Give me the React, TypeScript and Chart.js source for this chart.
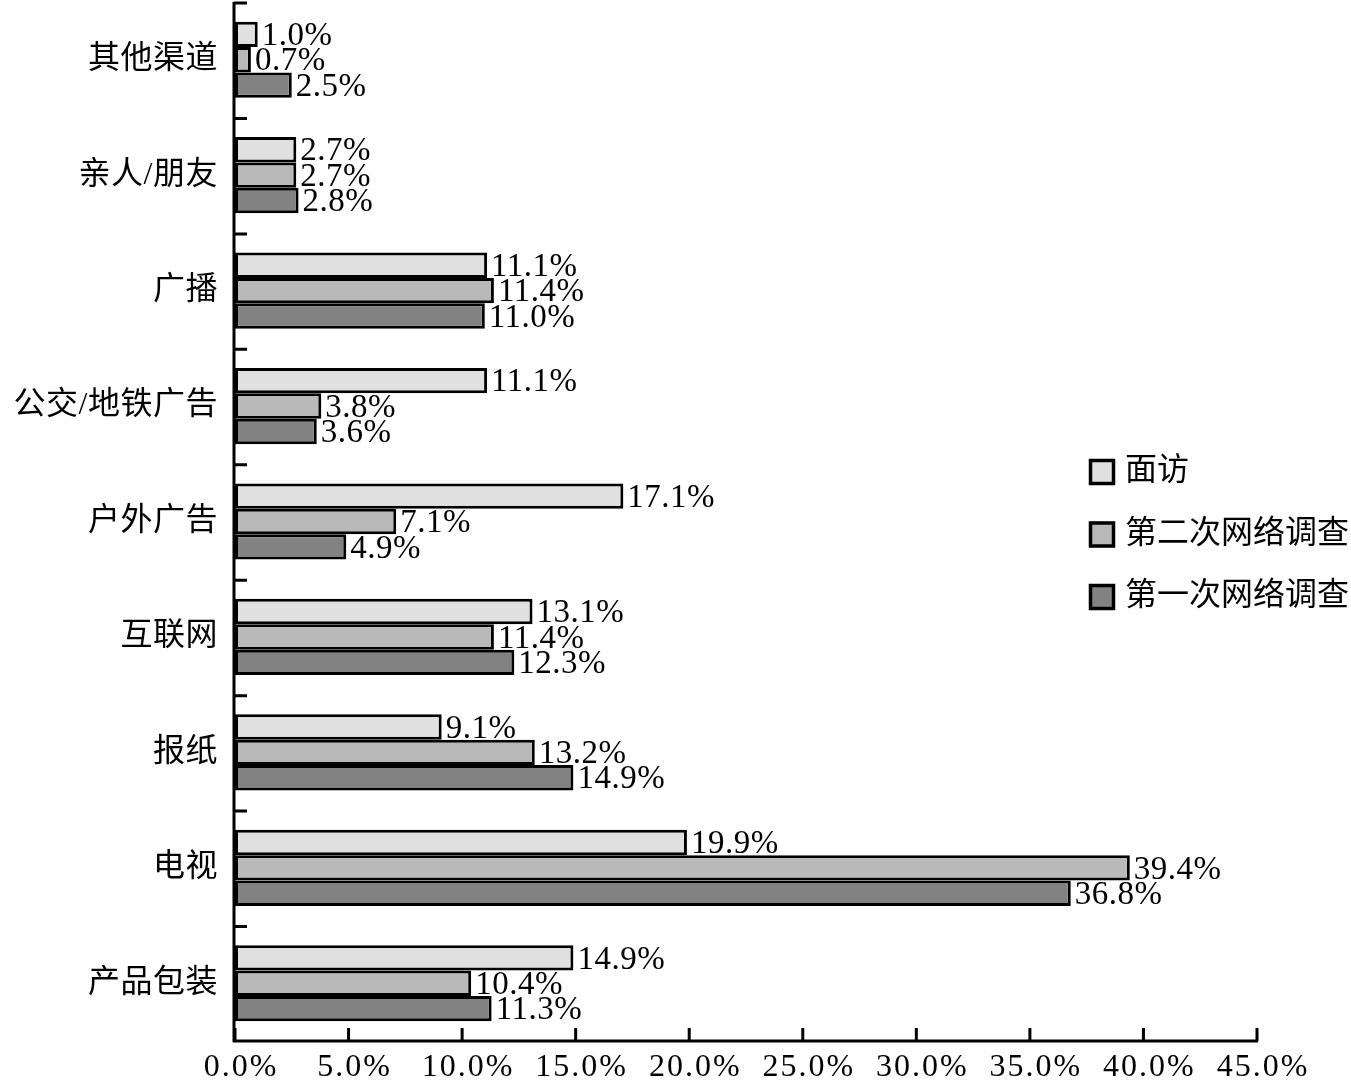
import React, { useEffect, useRef } from 'react';
import { Chart, registerables } from 'chart.js';

Chart.register(...registerables);

const categories = ['其他渠道', '亲人/朋友', '广播', '公交/地铁广告', '户外广告', '互联网', '报纸', '电视', '产品包装'];
const seriesNames = ['面访', '第二次网络调查', '第一次网络调查'];
const faceToFace = [1.0, 2.7, 11.1, 11.1, 17.1, 13.1, 9.1, 19.9, 14.9];
const secondOnline = [0.7, 2.7, 11.4, 3.8, 7.1, 11.4, 13.2, 39.4, 10.4];
const firstOnline = [2.5, 2.8, 11.0, 3.6, 4.9, 12.3, 14.9, 36.8, 11.3];
const seriesColors = ['#e0e0e0', '#b9b9b9', '#828282'];
const xMin = 0;
const xMax = 45;
const xStep = 5;

const FAMILY = '"Liberation Serif", "Times New Roman", "Noto Sans CJK SC", serif';

const stylePlugin = {
  id: 'stylePlugin',
  beforeDraw(chart: any) {
    const ctx = chart.ctx;
    ctx.save();
    ctx.fillStyle = '#ffffff';
    ctx.fillRect(0, 0, chart.width, chart.height);
    ctx.restore();
    (ctx as any).letterSpacing = '0.5px';
  },
  afterDatasetsDraw(chart: any) {
    const ctx = chart.ctx;
    const area = chart.chartArea;
    const xs = chart.scales.x;
    const ys = chart.scales.y;
    // data labels
    ctx.save();
    (ctx as any).letterSpacing = '0.5px';
    ctx.font = `33px ${FAMILY}`;
    ctx.fillStyle = '#000';
    ctx.textAlign = 'left';
    ctx.textBaseline = 'middle';
    chart.data.datasets.forEach((ds: any, di: number) => {
      const meta = chart.getDatasetMeta(di);
      meta.data.forEach((el: any, i: number) => {
        const v = ds.data[i];
        ctx.fillText(v.toFixed(1) + '%', el.x + 4, el.y + 2);
      });
    });
    ctx.restore();

    // axes
    ctx.save();
    ctx.strokeStyle = '#000';
    ctx.lineWidth = 3;
    ctx.beginPath();
    ctx.moveTo(area.left - 1, area.top);
    ctx.lineTo(area.left - 1, area.bottom + 1);
    ctx.moveTo(area.left - 2, area.bottom);
    ctx.lineTo(area.right + 1, area.bottom);
    ctx.stroke();
    ctx.beginPath();
    for (let v = xMin; v <= xMax; v += xStep) {
      const px = xs.getPixelForValue(v);
      ctx.moveTo(px, area.bottom);
      ctx.lineTo(px, area.bottom - 13);
    }
    for (let i = 0; i < categories.length; i++) {
      const py = ys.getPixelForValue(i - 0.5);
      ctx.moveTo(area.left - 1, py + 1);
      ctx.lineTo(area.left + 12, py + 1);
    }
    ctx.stroke();

    // x tick labels
    (ctx as any).letterSpacing = '2px';
    ctx.font = `32px ${FAMILY}`;
    ctx.fillStyle = '#000';
    ctx.textAlign = 'center';
    ctx.textBaseline = 'middle';
    for (let v = xMin; v <= xMax; v += xStep) {
      const px = xs.getPixelForValue(v);
      ctx.fillText(v.toFixed(1) + '%', px + 6, area.bottom + 27);
    }
    ctx.restore();
  },
  afterDraw(chart: any) {
    const ctx = chart.ctx;
    ctx.save();
    (ctx as any).letterSpacing = '0px';
    ctx.font = `32px ${FAMILY}`;
    ctx.textAlign = 'left';
    ctx.textBaseline = 'middle';
    const left = chart.width - 262;
    const top = 472;
    const gap = 62.5;
    chart.data.datasets.forEach((ds: any, i: number) => {
      const cy = top + i * gap;
      ctx.fillStyle = ds.backgroundColor;
      ctx.fillRect(left, cy - 13, 26, 26);
      ctx.strokeStyle = '#000';
      ctx.lineWidth = 3.5;
      ctx.strokeRect(left + 1.5, cy - 11.5, 23, 23);
      ctx.fillStyle = '#000';
      ctx.fillText(ds.label, left + 36, cy);
    });
    ctx.restore();
  },
};

export default function App() {
  const ref = useRef<HTMLCanvasElement | null>(null);
  useEffect(() => {
    if (!ref.current) return;
    const datasets = [faceToFace, secondOnline, firstOnline].map((d, i) => ({
      label: seriesNames[i],
      data: d,
      backgroundColor: seriesColors[i],
      borderColor: '#000',
      borderWidth: 3,
      borderSkipped: false,
      categoryPercentage: 0.66,
      barPercentage: 1.0,
    }));
    const chart = new Chart(ref.current, {
      type: 'bar',
      data: { labels: categories, datasets },
      options: {
        indexAxis: 'y',
        responsive: false,
        animation: false,
        devicePixelRatio: 1,
        layout: { padding: { top: 2, right: 94, left: 0, bottom: 0 } },
        plugins: { legend: { display: false }, tooltip: { enabled: false } },
        scales: {
          x: {
            min: xMin,
            max: xMax,
            grid: { display: false, drawTicks: false },
            border: { display: false },
            ticks: { display: false, stepSize: xStep },
            afterFit: (s: any) => { s.height = 39; s.paddingLeft = 0; s.paddingRight = 0; },
          },
          y: {
            grid: { display: false, drawTicks: false },
            border: { display: false },
            ticks: {
              padding: 17,
              color: '#000',
              font: { family: FAMILY, size: 32 },
              autoSkip: false,
            },
            afterFit: (s: any) => { s.width = 235; s.paddingTop = 0; s.paddingBottom = 0; },
          },
        },
      },
      plugins: [stylePlugin],
    } as any);
    return () => chart.destroy();
  }, []);
  return (
    <div style={{ position: 'absolute', left: 0, top: 0, width: 1351, height: 1080 }}>
      <canvas ref={ref} width={1351} height={1080} />
    </div>
  );
}
